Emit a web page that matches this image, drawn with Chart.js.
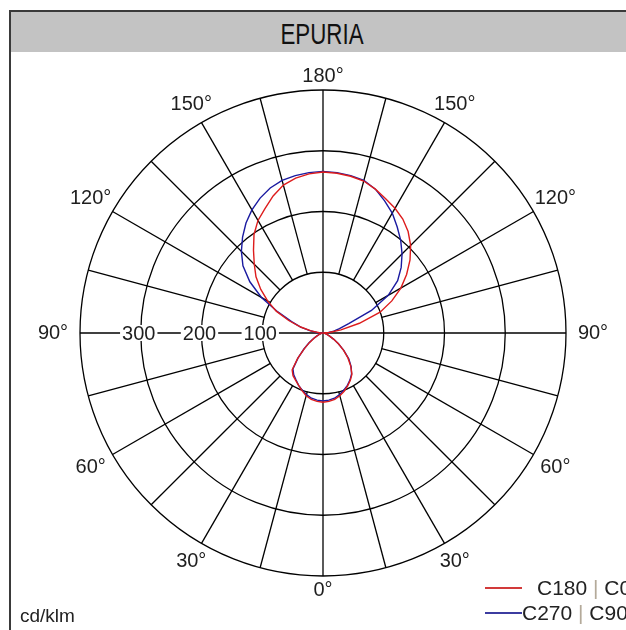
<!DOCTYPE html>
<html>
<head>
<meta charset="utf-8">
<script src="https://cdn.jsdelivr.net/npm/chart.js@4.4.1/dist/chart.umd.min.js"></script>
<style>
  html, body { margin: 0; padding: 0; background: #fff; overflow: hidden; }
  body { width: 626px; height: 630px; position: relative; font-family: "Liberation Sans", Arial, sans-serif; color: #222; }
  .frame { position: absolute; left: 9px; top: 10px; width: 660px; height: 700px; border: 2px solid #3a3a3a; box-sizing: border-box; }
  .head { height: 40px; background: #c3c3c3; position: relative; }
  .head span { position: absolute; left: 311px; top: 0; line-height: 44px; font-size: 29px; color: #111;
               transform: translateX(-50%) scaleX(0.77); white-space: nowrap; }
  #chart { position: absolute; left: 0; top: 0; }
  .unit { position: absolute; left: 20px; top: 605px; font-size: 19px; }
  .leg { position: absolute; font-size: 21px; line-height: 24px; white-space: nowrap; }
  .leg i { position: absolute; left: 0; top: 11px; width: 37px; height: 2px; }
  .leg b { font-weight: normal; color: #b4aa9a; }
</style>
</head>
<body>
<div class="frame"><div class="head"><span>EPURIA</span></div></div>
<canvas id="chart" width="626" height="630"></canvas>
<div class="unit">cd/klm</div>
<div class="leg" style="left:485px; top:576px;"><i style="background:#d23a3a"></i><span style="margin-left:52px">C180 <b>|</b> C0</span></div>
<div class="leg" style="left:485px; top:601px;"><i style="background:#3c3ca0"></i><span style="margin-left:37px">C270 <b>|</b> C90</span></div>

<script>
// gamma angles (deg), 0 = straight down, 180 = straight up
const gammas = [0, 5, 10, 15, 20, 25, 30, 35, 40, 45, 50, 55, 60, 65, 70, 75, 80, 85, 90,
                95, 100, 105, 110, 115, 120, 125, 130, 135, 140, 145, 150, 155, 160, 165, 170, 175, 180];

// intensities in cd/klm, one value per gamma
const c0   = [114, 113, 111, 107, 102, 96, 90, 83, 71, 58, 44, 31, 20, 12, 7, 4, 2, 1, 0,
              10, 30, 62, 100, 125, 148, 168, 187, 204, 218, 229, 237, 244, 252, 259, 262, 264, 265];
const c180 = [114, 113, 111, 107, 101, 95, 90, 86, 79, 59, 40, 27, 17, 10, 6, 3, 2, 1, 0,
              6, 20, 38, 60, 85, 105, 125, 144, 160, 178, 198, 214, 226, 240, 252, 259, 263, 265];
const c90  = [112, 111, 109, 105, 100, 95, 89, 82, 72, 60, 45, 31, 20, 12, 7, 4, 2, 1, 0,
              8, 18, 28, 45, 88, 124, 150, 168, 184, 199, 213, 228, 240, 252, 260, 263, 265, 266];
const c270 = [112, 111, 109, 105, 100, 95, 89, 84, 77, 58, 41, 28, 18, 11, 6, 3, 2, 1, 0,
              10, 22, 38, 55, 82, 117, 147, 172, 190, 206, 221, 234, 245, 254, 260, 263, 265, 266];

const radiusTicks = [100, 200, 300];
const angleTicks  = [0, 30, 60, 90, 120, 150, 180];

// radar runs clockwise from the top: right half (gamma 180 -> 0), then left half (gamma 5 -> 175)
const n = gammas.length - 1;
const labels = [], redLine = [], blueLine = [];
for (let i = n; i >= 0; i--) { labels.push(gammas[i]); redLine.push(c0[i]); blueLine.push(c90[i]); }
for (let i = 1; i < n; i++)  { labels.push(gammas[i]); redLine.push(c180[i]); blueLine.push(c270[i]); }
const quarter = n / 2;

const polarGrid = {
    id: 'polarGrid',
    beforeDatasetsDraw(chart) {
        const r = chart.scales.r, ctx = chart.ctx;
        ctx.save();
        ctx.strokeStyle = '#000';
        ctx.lineWidth = 1.3;
        for (let i = 0; i < labels.length; i += 3) {
            const a = r.getPointPositionForValue(i, i % quarter === 0 ? 0 : 100);
            const b = r.getPointPositionForValue(i, 400);
            ctx.beginPath(); ctx.moveTo(a.x, a.y); ctx.lineTo(b.x, b.y); ctx.stroke();
        }

        ctx.font = '20px "Liberation Sans", Arial, sans-serif';
        ctx.textAlign = 'center';
        ctx.textBaseline = 'middle';
        radiusTicks.forEach(v => {
            const p = r.getPointPositionForValue(3 * quarter, v);
            const w = ctx.measureText(String(v)).width + 4;
            ctx.fillStyle = '#fff';
            ctx.fillRect(p.x - 2 - w / 2, p.y - 8, w, 16);
            ctx.fillStyle = '#1e1e1e';
            ctx.fillText(String(v), p.x - 2, p.y + 1);
        });

        angleTicks.forEach(g => {
            const k = g / 5;
            new Set([2 * quarter - k, (2 * quarter + k) % labels.length]).forEach(i => {
                const off = 14 + 13 * Math.abs(Math.sin(r.getIndexAngle(i)));
                const p = r.getPointPosition(i, r.drawingArea + off);
                ctx.fillText(g + '°', p.x, p.y);
            });
        });
        ctx.restore();
    }
};

new Chart(document.getElementById('chart'), {
    type: 'radar',
    data: {
        labels: labels,
        datasets: [
            { label: 'C180 | C0',  data: redLine,  borderColor: '#dd1c1c', borderWidth: 1.4, pointRadius: 0, fill: false },
            { label: 'C270 | C90', data: blueLine, borderColor: '#1a1aa0', borderWidth: 1.4, pointRadius: 0, fill: false }
        ]
    },
    options: {
        responsive: false,
        animation: false,
        devicePixelRatio: 1,
        layout: { padding: { left: 80, right: 60, top: 90, bottom: 54 } },
        plugins: { legend: { display: false }, tooltip: { enabled: false } },
        elements: { line: { tension: 0 } },
        scales: {
            r: {
                min: 0, max: 400,
                ticks: { display: false, stepSize: 100 },
                pointLabels: { display: false },
                angleLines: { display: false },
                grid: { color: '#000', lineWidth: 1.3, circular: true }
            }
        }
    },
    plugins: [polarGrid]
});
</script>
</body>
</html>
